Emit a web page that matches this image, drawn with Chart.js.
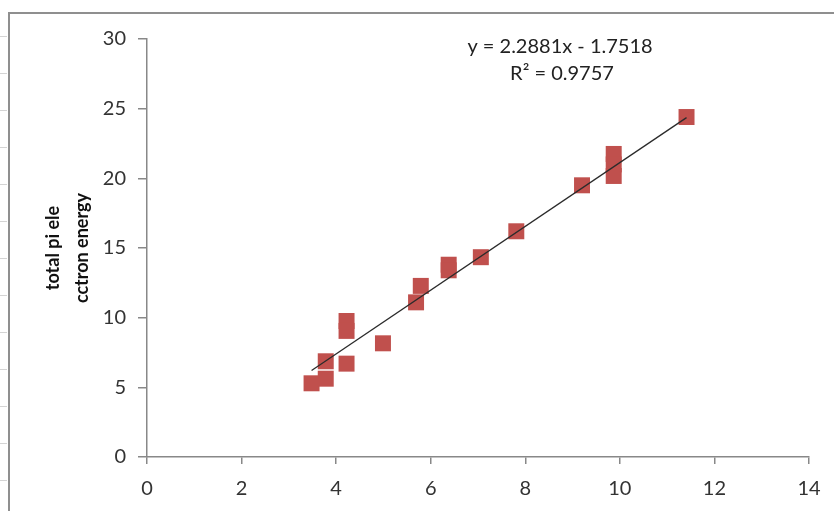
<!DOCTYPE html>
<html>
<head>
<meta charset="utf-8">
<script src="https://cdn.jsdelivr.net/npm/chart.js@4.4.1/dist/chart.umd.min.js"></script>
<style>
  html, body { margin: 0; padding: 0; background: #fff; }
  #wrap { position: relative; width: 834px; height: 511px; overflow: hidden; }
  #frame {
    position: absolute; left: 8px; top: 12px; width: 900px; height: 600px;
    border-top: 2px solid #8f8f8f; border-left: 2px solid #8f8f8f;
    pointer-events: none;
  }
  #ruler {
    position: absolute; left: 0; top: 0; width: 7px; height: 511px;
    background: repeating-linear-gradient(to bottom, transparent 0, transparent 36px, #d4d4d4 36px, #d4d4d4 37px);
    pointer-events: none;
  }
</style>
</head>
<body>
<div id="wrap">
  <canvas id="scatterChart" width="834" height="511"></canvas>
  <div id="ruler"></div>
  <div id="frame"></div>
</div>
<script>
'use strict';

// measured points
var xValues = [3.48, 3.78, 3.78, 4.22, 4.22, 4.22, 4.99, 5.69, 5.79, 6.38, 6.38, 7.06, 7.81, 9.20, 9.87, 9.87, 9.87, 11.41];
var yValues = [5.29, 6.87, 5.62, 9.76, 9.05, 6.70, 8.16, 11.10, 12.28, 13.80, 13.40, 14.34, 16.20, 19.50, 21.75, 21.00, 20.17, 24.40];

// linear trendline as printed on the chart
var slope = 2.2881;
var intercept = -1.7518;
var equationLines = ['y = 2.2881x - 1.7518', 'R\u00b2 = 0.9757'];

var xTicks = [0, 2, 4, 6, 8, 10, 12, 14];
var yTicks = [0, 5, 10, 15, 20, 25, 30];
var yTitle = ['total pi ele', 'cctron energy'];

var points = xValues.map(function (x, i) { return { x: x, y: yValues[i] }; });
var xMin = Math.min.apply(null, xValues);
var xMax = Math.max.apply(null, xValues);
var trend = [
    { x: xMin, y: slope * xMin + intercept },
    { x: xMax, y: slope * xMax + intercept }
];

var fontFamily = 'Lato, "Open Sans", sans-serif';

var equationLabel = {
    id: 'equationLabel',
    afterDraw: function (chart) {
        var ctx = chart.ctx;
        ctx.save();
        ctx.fillStyle = '#222';
        ctx.font = '20px ' + fontFamily;
        ctx.textAlign = 'center';
        ctx.textBaseline = 'middle';
        ctx.fillText(equationLines[0], 560, 47);
        ctx.fillText(equationLines[1], 562, 74);
        ctx.restore();
    }
};

var scatterChart = new Chart(document.getElementById('scatterChart'), {
    type: 'scatter',
    data: {
        datasets: [
            {
                type: 'line',
                label: 'trend',
                data: trend,
                borderColor: '#2b2b2b',
                borderWidth: 1.3,
                pointRadius: 0,
                fill: false,
                order: 0
            },
            {
                label: 'energy',
                data: points,
                pointStyle: 'rect',
                pointRadius: 11.3,
                pointHoverRadius: 11.3,
                backgroundColor: '#c0504d',
                borderColor: '#c0504d',
                borderWidth: 0,
                order: 1
            }
        ]
    },
    options: {
        responsive: false,
        animation: false,
        devicePixelRatio: 1,
        layout: { padding: { left: 0, top: 39, right: 25, bottom: 0 } },
        plugins: {
            legend: { display: false },
            tooltip: { enabled: false }
        },
        scales: {
            x: {
                type: 'linear',
                min: 0,
                max: 14,
                afterBuildTicks: function (scale) {
                    scale.ticks = xTicks.map(function (v) { return { value: v }; });
                },
                afterFit: function (scale) { scale.height = 54; },
                border: { color: '#888', width: 1.5 },
                grid: { drawOnChartArea: false, tickLength: 7, color: '#888', lineWidth: 1.5 },
                ticks: { color: '#333', padding: 13, font: { family: fontFamily, size: 20 } }
            },
            y: {
                type: 'linear',
                min: 0,
                max: 30,
                afterBuildTicks: function (scale) {
                    scale.ticks = yTicks.map(function (v) { return { value: v }; });
                },
                afterFit: function (scale) { scale.width = 147; },
                border: { color: '#888', width: 1.5 },
                grid: { drawOnChartArea: false, tickLength: 9, color: '#888', lineWidth: 1.5 },
                ticks: { color: '#333', padding: 12, font: { family: fontFamily, size: 20 } },
                title: {
                    display: true,
                    text: yTitle,
                    color: '#111',
                    padding: { top: 39, bottom: 0 },
                    font: { family: fontFamily, size: 18, weight: 'bold', lineHeight: 1.6 }
                }
            }
        }
    },
    plugins: [equationLabel]
});
</script>
</body>
</html>
